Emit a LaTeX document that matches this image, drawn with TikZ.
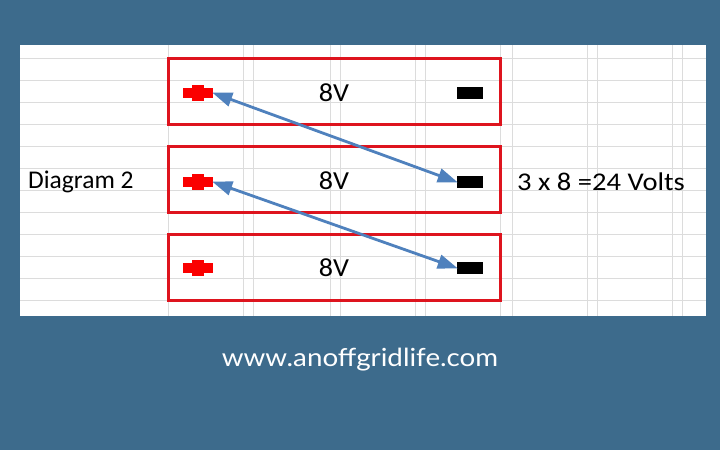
\documentclass[tikz,border=0pt]{standalone}
\usepackage{fontspec}
\setmainfont{Carlito}
\newfontfamily\urlfont{Lato}
\usetikzlibrary{arrows.meta}
\definecolor{bgblue}{RGB}{61,107,140}
\definecolor{gridgray}{RGB}{220,220,220}
\definecolor{boxred}{RGB}{222,20,30}
\definecolor{plusred}{RGB}{250,0,0}
\definecolor{arrowblue}{RGB}{79,129,189}
\tikzset{
  battery/.style={draw=boxred, line width=3pt, minimum width=332pt, minimum height=66pt, inner sep=0pt},
  minusterm/.style={fill=black, minimum width=26pt, minimum height=12pt, inner sep=0pt},
  plusterm/.style={minimum width=30pt, minimum height=16pt, inner sep=0pt,
    path picture={
      \fill[plusred] ([xshift=-15pt,yshift=-5pt]path picture bounding box.center) rectangle ([xshift=15pt,yshift=5pt]path picture bounding box.center);
      \fill[plusred] ([xshift=-6pt,yshift=-8pt]path picture bounding box.center) rectangle ([xshift=6pt,yshift=8pt]path picture bounding box.center);
    }},
  volt/.style={font=\fontsize{26}{30}\selectfont, inner sep=0pt, xscale=1.08},
  label/.style={font=\fontsize{25.5}{30}\selectfont, inner sep=0pt, anchor=west},
  link/.style={arrowblue, line width=2.8pt, {Triangle[length=20pt,width=14pt]}-{Triangle[length=20pt,width=14pt]}, shorten <=-1pt, shorten >=-1pt},
}
\begin{document}
\begin{tikzpicture}[x=1pt,y=-1pt]
\useasboundingbox (0,0) rectangle (720,450);
\fill[bgblue] (0,0) rectangle (720,450);
\fill[white] (20,45) rectangle (706,316);
% grid
\foreach \y in {58,80,102,124,146,168,190,212,234,256,278,300}
  \draw[gridgray, line width=0.8pt] (20,\y) -- (706,\y);
\foreach \x in {168,243,253,330,340,415,425,500,512,587,597,672,682}
  \draw[gridgray, line width=0.8pt] (\x,45) -- (\x,316);
% batteries
\node[battery] (b1) at (334,91) {};
\node[battery] (b2) at (334,179.5) {};
\node[battery] (b3) at (334,267) {};
\node[volt] (v1) at (334,93) {8V};
\node[volt] (v2) at (334,181) {8V};
\node[volt] (v3) at (334,268) {8V};
\node[plusterm] (p1) at (198,93) {};
\node[plusterm] (p2) at (198,182) {};
\node[plusterm] (p3) at (198,268) {};
\node[minusterm] (m1) at (470,93) {};
\node[minusterm] (m2) at (470,182) {};
\node[minusterm] (m3) at (470,268) {};
% links
\draw[link] (p1.east) -- (m2.west);
\draw[link] (p2.east) -- (m3.west);
% labels
\node[label] (d) at (28,182) {Diagram 2};
\node[label, xscale=1.12] (t) at (517,182) {3 x 8 =24 Volts};
\node[font=\urlfont\fontsize{25}{29}\selectfont, text=white, inner sep=0pt, xscale=1.11] (url) at (360,360) {www.anoffgridlife.com};
\end{tikzpicture}
\end{document}
